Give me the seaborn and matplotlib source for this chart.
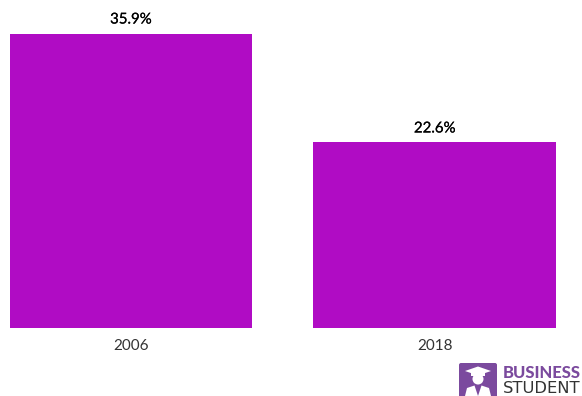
import matplotlib
matplotlib.use("Agg")
import matplotlib.pyplot as plt
from matplotlib.patches import FancyBboxPatch, Polygon, Circle, Rectangle
import matplotlib.patheffects as pe
import pandas as pd
import seaborn as sns

years = ["2006", "2018"]
shares = [35.9, 22.6]
value_labels = ["35.9%", "22.6%"]

BAR_COLOR = "#B00CC4"
LOGO_COLOR = "#7B4A9E"
W, H = 582, 396

sns.set_theme(style="white")
plt.rcParams["font.family"] = ["Lato", "DejaVu Sans"]

fig = plt.figure(figsize=(W / 100, H / 100), dpi=100, facecolor="white")
ax = fig.add_axes([9.5 / W, 1 - 327.5 / H, 546.5 / W, 294 / H])

data = pd.DataFrame({"year": years, "share": shares})
sns.barplot(data=data, x="year", y="share", color=BAR_COLOR, saturation=1,
            width=0.8, linewidth=0, ax=ax)

ax.set_xlim(-0.4, 1.4)
ax.set_ylim(0, 35.9)
ax.set_xlabel("")
ax.set_ylabel("")
ax.set_yticks([])
ax.tick_params(axis="x", length=0, pad=8.5, labelsize=11, labelcolor="#333333")
sns.despine(ax=ax, left=True, bottom=True, top=True, right=True)

# Regular weight with a hairline stroke gives the semi-bold look of the value labels
for i, (value, label) in enumerate(zip(shares, value_labels)):
    ax.annotate(label, (i, value), xytext=(0, 5), textcoords="offset points",
                ha="center", va="bottom", fontsize=10.8, color="black",
                annotation_clip=False,
                path_effects=[pe.withStroke(linewidth=0.12, foreground="black")])

# Brand mark in the lower right corner, laid out in pixel units
logo = fig.add_axes([0, 0, 1, 1], facecolor="none")
logo.set_xlim(0, W)
logo.set_ylim(H, 0)
logo.axis("off")
logo.add_patch(FancyBboxPatch((459, 363), 38, 35, boxstyle="round,pad=0,rounding_size=2",
                              fc=LOGO_COLOR, ec="none"))
logo.add_patch(Polygon([(465, 371), (478, 366.5), (491, 371), (478, 375.5)], fc="white", ec="none"))
logo.add_patch(Rectangle((471, 373), 14, 3, fc="white", ec="none"))
logo.add_patch(Circle((478, 379), 5.5, fc="white", ec="none"))
logo.add_patch(Polygon([(465, 396), (467, 388), (474.5, 385.5), (478, 396)], fc="white", ec="none"))
logo.add_patch(Polygon([(491, 396), (489, 388), (481.5, 385.5), (478, 396)], fc="white", ec="none"))
logo.text(503, 372.5, "BUSINESS", fontsize=12, fontweight="black", color=LOGO_COLOR,
          va="center", ha="left")
logo.text(503, 388.5, "STUDENT", fontsize=11.8, family="DejaVu Sans", color="#333333",
          va="center", ha="left")

fig.savefig("out.png", dpi=100)
